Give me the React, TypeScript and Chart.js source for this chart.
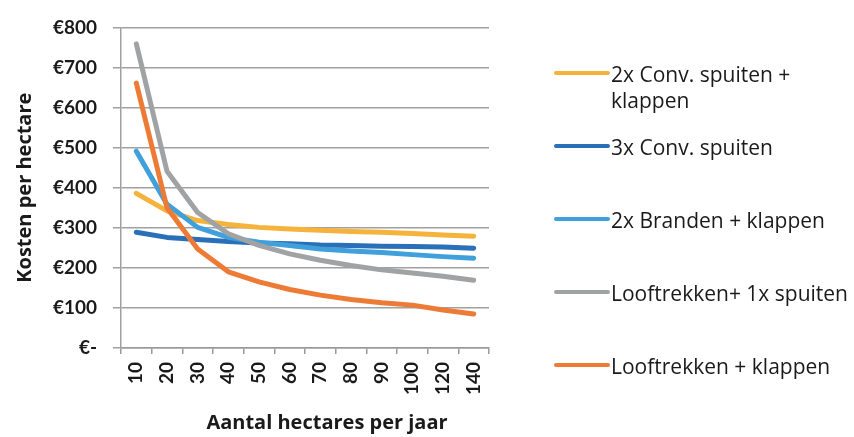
import { useEffect, useRef } from "react";
import { Chart, registerables } from "chart.js";

Chart.register(...registerables);

const categories = ["10", "20", "30", "40", "50", "60", "70", "80", "90", "100", "120", "140"];
const seriesNames = [
  "2x Conv. spuiten + klappen",
  "3x Conv. spuiten",
  "2x Branden + klappen",
  "Looftrekken+ 1x spuiten",
  "Looftrekken + klappen",
];
const conv2Klappen = [386, 342, 318, 308, 301, 297, 294, 291, 289, 286, 282, 279];
const conv3 = [289, 276, 271, 266, 262, 260, 257, 256, 254, 253, 252, 249];
const branden2Klappen = [491, 359, 301, 276, 264, 256, 247, 242, 238, 233, 228, 224];
const looftrekkenSpuiten = [759, 441, 338, 285, 256, 235, 219, 206, 195, 187, 179, 169];
const looftrekkenKlappen = [661, 350, 247, 190, 165, 146, 132, 121, 113, 107, 95, 85];
const seriesColors = ["#F5B33B", "#2A70B8", "#3FA0DC", "#A0A2A4", "#EE7B35"];
const yTicks = [0, 100, 200, 300, 400, 500, 600, 700, 800];
const xTitle = "Aantal hectares per jaar";
const yTitle = "Kosten per hectare";

const FONT = "Lato, 'Open Sans', sans-serif";
const WIDE = "'Open Sans', Lato, sans-serif";

const legendPlugin = {
  id: "sideLegend",
  afterDraw(chart: any) {
    const ctx = chart.ctx;
    const area = chart.chartArea;
    ctx.save();
    // x axis title (offset to the right as in the reference)
    ctx.font = `bold 20px ${WIDE}`;
    ctx.fillStyle = "#1a1a1a";
    ctx.textAlign = "center";
    ctx.textBaseline = "middle";
    ctx.fillText(xTitle, (area.left + area.right) / 2 + 22, 423);

    const x0 = area.right + 67;
    const swatchW = 52;
    const textX = x0 + swatchW + 3;
    const maxW = 245;
    const lineH = 26;
    ctx.font = `21px ${WIDE}`;
    ctx.textAlign = "left";
    chart.data.datasets.forEach((ds: any, i: number) => {
      const y = 73 + i * 73;
      ctx.strokeStyle = ds.borderColor;
      ctx.lineWidth = 4;
      ctx.lineCap = "round";
      ctx.beginPath();
      ctx.moveTo(x0, y);
      ctx.lineTo(x0 + swatchW, y);
      ctx.stroke();
      const words = String(ds.label).split(" ");
      const lines: string[] = [];
      let cur = "";
      words.forEach((w) => {
        const test = cur ? cur + " " + w : w;
        if (ctx.measureText(test).width > maxW && cur) {
          lines.push(cur);
          cur = w;
        } else cur = test;
      });
      if (cur) lines.push(cur);
      ctx.fillStyle = "#1a1a1a";
      lines.forEach((ln, k) => ctx.fillText(ln, textX, y + 3 + k * lineH));
    });
    ctx.restore();
  },
};

export default function App() {
  const ref = useRef<HTMLCanvasElement>(null);
  useEffect(() => {
    document.body.style.margin = "0";
    const seriesData = [conv2Klappen, conv3, branden2Klappen, looftrekkenSpuiten, looftrekkenKlappen];
    const chart = new Chart(ref.current as HTMLCanvasElement, {
      type: "line",
      data: {
        labels: categories,
        datasets: seriesData.map((d, i) => ({
          label: seriesNames[i],
          data: d,
          borderColor: seriesColors[i],
          backgroundColor: seriesColors[i],
          borderWidth: 5,
          pointRadius: 0,
          tension: 0,
          borderCapStyle: "round" as const,
          borderJoinStyle: "round" as const,
          order: seriesData.length - i,
        })),
      },
      options: {
        animation: false,
        responsive: false,
        devicePixelRatio: 1,
        layout: { padding: { left: 0, top: 25, right: 365, bottom: 0 } },
        plugins: { legend: { display: false }, tooltip: { enabled: false } },
        scales: {
          x: {
            offset: true,
            grid: {
              display: true,
              offset: true,
              drawOnChartArea: false,
              drawTicks: true,
              tickLength: 6,
              color: "#9a9a9a",
              lineWidth: 1.5,
            },
            border: { display: true, color: "#9a9a9a", width: 1.5 },
            ticks: {
              minRotation: 90,
              maxRotation: 90,
              padding: 8,
              color: "#1a1a1a",
              font: { family: FONT, size: 19, weight: "bold" },
            },
            title: { display: false },
            afterFit(scale: any) {
              scale.height = 89;
            },
          },
          y: {
            min: 0,
            max: 800,
            afterBuildTicks(scale: any) {
              scale.ticks = yTicks.map((v) => ({ value: v }));
            },
            grid: {
              color: "#a0a0a0",
              lineWidth: 1.5,
              tickLength: 8,
            },
            border: { display: true, color: "#a0a0a0", width: 1.5 },
            ticks: {
              padding: 16,
              color: "#1a1a1a",
              font: { family: FONT, size: 19, weight: "bold" },
              callback: (v: any) => (Number(v) === 0 ? "€-" : "€" + v),
            },
            title: {
              display: true,
              text: yTitle,
              color: "#1a1a1a",
              font: { family: WIDE, size: 20, weight: "bold" },
              padding: { top: 13, bottom: 0 },
            },
            afterFit(scale: any) {
              scale.width = 121;
            },
          },
        },
      },
      plugins: [legendPlugin],
    });
    return () => chart.destroy();
  }, []);
  return (
    <div style={{ position: "relative", width: 854, height: 437, background: "#fff" }}>
      <canvas ref={ref} width={854} height={437} style={{ display: "block" }} />
    </div>
  );
}
